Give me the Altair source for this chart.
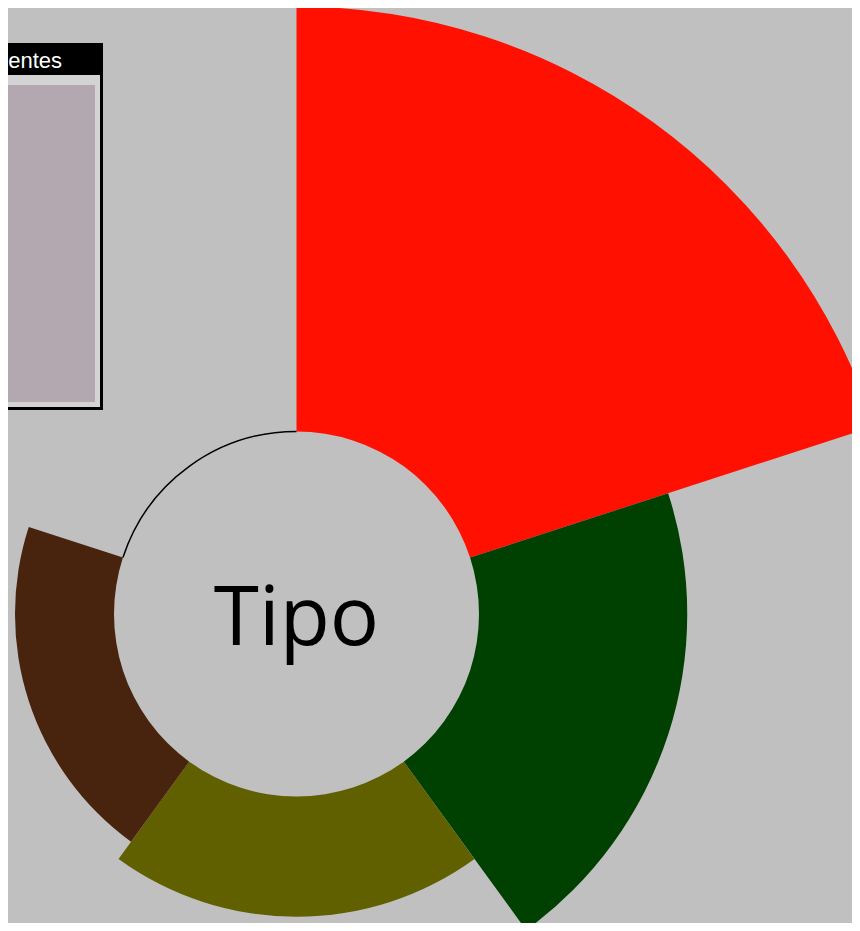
import altair as alt
import pandas as pd
import math

categorias = ["Rojo", "Verde", "Oliva", "Marrón", "Vacío"]
valores = [100, 49, 28.3, 23.3, 0]
partes = [1, 1, 1, 1, 1]
colores = ["#ff1000", "#004000", "#606000", "#48230d", "#c0c0c0"]
titulo_leyenda = "Ingredientes"
texto_centro = "Tipo"

fin = pd.Series(partes).cumsum()
df = pd.DataFrame({
    "cat": categorias,
    "valor": valores,
    "ini": fin - pd.Series(partes),
    "fin": fin,
})
total = float(sum(partes))

CX, CY = 288.5, 606
R_IN, R_OUT = 182.5, 607.5

arcs = alt.Chart(df).mark_arc(innerRadius=R_IN, strokeWidth=1.5).encode(
    theta=alt.Theta("ini:Q", scale=alt.Scale(domain=[0, total], range=[0, 2 * math.pi])),
    theta2="fin:Q",
    radius=alt.Radius("valor:Q", scale=alt.Scale(type="linear", domain=[0, 100], range=[R_IN, R_OUT])),
    color=alt.Color("cat:N", scale=alt.Scale(domain=categorias, range=colores), legend=None),
    stroke=alt.condition(alt.datum.valor == 0, alt.value("black"), alt.value("transparent")),
    x=alt.value(CX),
    y=alt.value(CY),
)

one = alt.Data(values=[{"t": texto_centro, "l": titulo_leyenda}])

center_text = alt.Chart(one).mark_text(
    font="Open Sans", fontSize=82, align="center", baseline="alphabetic", color="black"
).encode(text="t:N", x=alt.value(CX), y=alt.value(637))

leg_outer = alt.Chart(one).mark_rect(color="black").encode(
    x=alt.value(-60), x2=alt.value(95), y=alt.value(35), y2=alt.value(402))
leg_frame = alt.Chart(one).mark_rect(color="#d3d3d3").encode(
    x=alt.value(-60), x2=alt.value(92), y=alt.value(67), y2=alt.value(399))
leg_inner = alt.Chart(one).mark_rect(color="#b3a8b0").encode(
    x=alt.value(-60), x2=alt.value(87), y=alt.value(77), y2=alt.value(394))
leg_title = alt.Chart(one).mark_text(
    font="Liberation Sans", fontSize=22, align="right", baseline="alphabetic", color="white"
).encode(text="l:N", x=alt.value(54), y=alt.value(60))

chart = alt.layer(arcs, center_text, leg_outer, leg_frame, leg_inner, leg_title).properties(
    width=844, height=915, autosize=alt.AutoSizeParams(type="none"), padding=0,
    background="#c0c0c0",
).configure_view(stroke=None)

chart.save("out.html", embed_options={"renderer": "svg", "actions": False})
